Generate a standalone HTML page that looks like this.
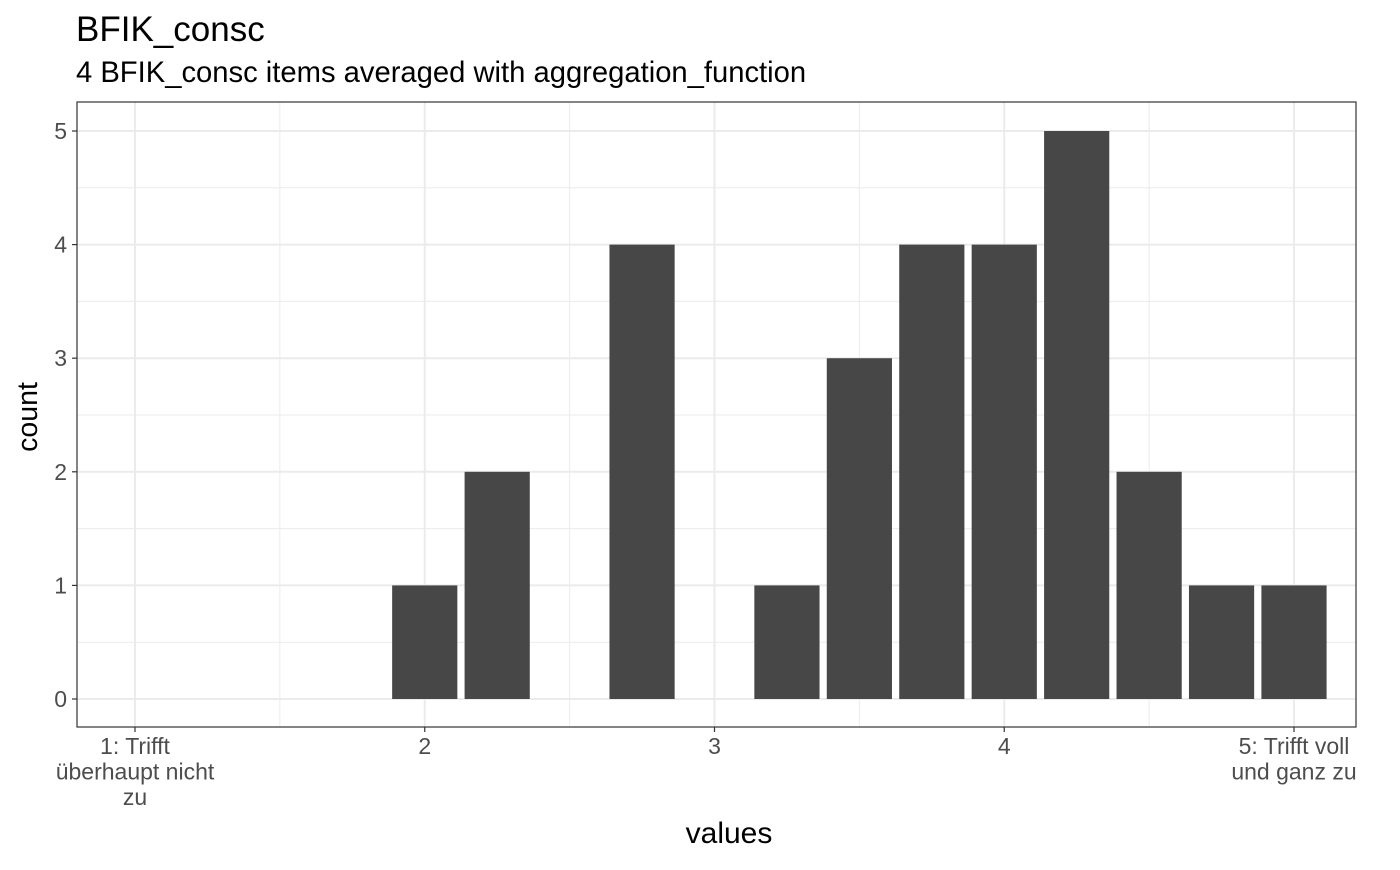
<!DOCTYPE html>
<html><head><meta charset="utf-8"><style>
body{margin:0;background:#fff;font-family:"Liberation Sans",Arial,sans-serif;}
</style></head><body>
<svg id="chart" width="1400" height="865" xmlns="http://www.w3.org/2000/svg">
<text x="76" y="41" font-size="35" fill="#000">BFIK_consc</text>
<text x="76" y="82" font-size="29.2" fill="#000">4 BFIK_consc items averaged with aggregation_function</text>
<g id="grid"></g>
<g id="bars"></g>
<rect x="77" y="102" width="1279" height="625" fill="none" stroke="#333" stroke-width="1.2"/>
<g id="axes"></g>
<text x="729" y="843" font-size="30" text-anchor="middle">values</text>
<text transform="translate(37,417) rotate(-90)" font-size="28.5" text-anchor="middle">count</text>
</svg>
<script>
const categories=[2,2.25,2.75,3.25,3.5,3.75,4,4.25,4.5,4.75,5];
const counts=[1,2,4,1,3,4,4,5,2,1,1];
const xTicks=[1,2,3,4,5];
const xTickLabels=[["1: Trifft","überhaupt nicht","zu"],["2"],["3"],["4"],["5: Trifft voll","und ganz zu"]];
const yTicks=[0,1,2,3,4,5];
const NS="http://www.w3.org/2000/svg";
const X=v=>135+(v-1)*289.75;
const Y=v=>699-v*113.6;
const L=77,R=1356,T=102,B=727;
function mk(tag,attrs,parent){const e=document.createElementNS(NS,tag);for(const k in attrs)e.setAttribute(k,attrs[k]);document.getElementById(parent).appendChild(e);return e;}
for(let v=1.5;v<5;v+=1){const e=mk('line',{x1:X(v),x2:X(v),y1:T,y2:B,stroke:'#ebebeb','stroke-width':1},'grid');

}
for(let v=0.5;v<5.5;v+=1){const e=mk('line',{x1:L,x2:R,y1:Y(v),y2:Y(v),stroke:'#ebebeb','stroke-width':1},'grid');

}
xTicks.forEach((v,i)=>{const e=mk('line',{x1:X(v),x2:X(v),y1:T,y2:B,stroke:'#ebebeb','stroke-width':2},'grid');


const t=mk('line',{x1:X(v),x2:X(v),y1:B,y2:B+5,stroke:'#333','stroke-width':1.2},'axes');


xTickLabels[i].forEach((s,j)=>{const tx=mk('text',{x:X(v),y:B+27+j*25.5,'font-size':23,fill:'#4d4d4d','text-anchor':'middle'},'axes');tx.textContent=s;

});});
yTicks.forEach(v=>{const e=mk('line',{x1:L,x2:R,y1:Y(v),y2:Y(v),stroke:'#ebebeb','stroke-width':2},'grid');


const t=mk('line',{x1:L-5,x2:L,y1:Y(v),y2:Y(v),stroke:'#333','stroke-width':1.2},'axes');


const tx=mk('text',{x:L-10,y:Y(v)+8,'font-size':23,fill:'#4d4d4d','text-anchor':'end'},'axes');tx.textContent=v;

});
const bw=0.225;
categories.forEach((c,i)=>{const b=mk('rect',{x:X(c-bw/2),y:Y(counts[i]),width:bw*289.75,height:Y(0)-Y(counts[i]),fill:'#474747'},'bars');

});
</script>
</body></html>
